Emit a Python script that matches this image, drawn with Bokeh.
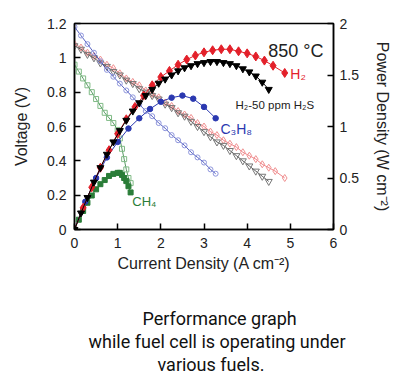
from bokeh.plotting import figure
from bokeh.models import Range1d, LinearAxis, FixedTicker, NumeralTickFormatter, Label, Title
from bokeh.embed import file_html
from bokeh.resources import INLINE

# ---------------- data ----------------
x_ticks = [0, 1, 2, 3, 4, 5, 6]
v_ticks = [0, 0.2, 0.4, 0.6, 0.8, 1.0, 1.2]
p_ticks = [0, 0.5, 1, 1.5, 2]

# H2
h2_i_p = [0, 0.2, 0.4, 0.6, 0.8, 1.0, 1.2, 1.4, 1.6, 1.8, 2.0, 2.2, 2.4, 2.6, 2.8, 3.0, 3.2, 3.4, 3.6, 3.8, 4.0, 4.2, 4.4, 4.6, 4.87]
h2_power = [0, 0.21, 0.41, 0.60, 0.77, 0.93, 1.07, 1.19, 1.30, 1.40, 1.48, 1.54, 1.60, 1.65, 1.69, 1.72, 1.74, 1.75, 1.75, 1.73, 1.71, 1.68, 1.64, 1.59, 1.52]
h2_i_v = [0, 0.15, 0.3, 0.45, 0.6, 0.75, 0.9, 1.05, 1.2, 1.35, 1.5, 1.65, 1.8, 1.95, 2.1, 2.25, 2.4, 2.55, 2.7, 2.85, 3.0, 3.15, 3.3, 3.45, 3.6, 3.75, 3.9, 4.05, 4.2, 4.35, 4.5, 4.65, 4.87]
h2_volt = [1.08, 1.06, 1.03, 1.01, 0.99, 0.96, 0.94, 0.91, 0.88, 0.86, 0.84, 0.81, 0.79, 0.77, 0.74, 0.72, 0.69, 0.67, 0.65, 0.62, 0.60, 0.57, 0.55, 0.52, 0.50, 0.48, 0.45, 0.43, 0.41, 0.38, 0.36, 0.34, 0.30]

# H2 - 50 ppm H2S
hs_i = [0, 0.15, 0.3, 0.45, 0.6, 0.75, 0.9, 1.05, 1.2, 1.35, 1.5, 1.65, 1.8, 1.95, 2.1, 2.25, 2.4, 2.55, 2.7, 2.85, 3.0, 3.15, 3.3, 3.45, 3.6, 3.75, 3.9, 4.05, 4.2, 4.35, 4.5]
hs_power = [0, 0.16, 0.31, 0.46, 0.60, 0.73, 0.85, 0.96, 1.06, 1.15, 1.23, 1.30, 1.36, 1.42, 1.46, 1.50, 1.54, 1.57, 1.59, 1.61, 1.62, 1.63, 1.63, 1.62, 1.61, 1.59, 1.56, 1.53, 1.49, 1.43, 1.36]
hs_volt = [1.07, 1.05, 1.02, 1.00, 0.97, 0.95, 0.92, 0.90, 0.87, 0.85, 0.82, 0.80, 0.78, 0.76, 0.73, 0.71, 0.68, 0.66, 0.63, 0.60, 0.57, 0.54, 0.51, 0.49, 0.46, 0.43, 0.40, 0.37, 0.34, 0.31, 0.28]

# C3H8
c3_i_p = [0, 0.25, 0.5, 0.75, 1.0, 1.25, 1.5, 1.75, 2.0, 2.25, 2.5, 2.75, 3.0, 3.27]
c3_power = [0, 0.27, 0.50, 0.70, 0.85, 0.98, 1.08, 1.17, 1.24, 1.28, 1.30, 1.27, 1.19, 1.08]
c3_i_v = [0, 0.15, 0.3, 0.45, 0.6, 0.75, 0.9, 1.05, 1.2, 1.35, 1.5, 1.65, 1.8, 1.95, 2.1, 2.25, 2.4, 2.55, 2.7, 2.85, 3.0, 3.15, 3.27]
c3_volt = [1.18, 1.13, 1.08, 1.03, 0.98, 0.93, 0.89, 0.85, 0.81, 0.77, 0.73, 0.69, 0.66, 0.62, 0.59, 0.55, 0.52, 0.49, 0.45, 0.42, 0.39, 0.35, 0.325]

# CH4
ch4_i_p = [0, 0.1, 0.2, 0.3, 0.4, 0.5, 0.6, 0.7, 0.8, 0.9, 1.0, 1.05, 1.1, 1.15, 1.2, 1.25, 1.3]
ch4_power = [0, 0.095, 0.18, 0.26, 0.33, 0.39, 0.44, 0.48, 0.52, 0.54, 0.55, 0.55, 0.53, 0.50, 0.47, 0.42, 0.36]
ch4_i_v = [0, 0.1, 0.2, 0.3, 0.4, 0.5, 0.6, 0.7, 0.8, 0.9, 1.0, 1.05, 1.1, 1.15, 1.2, 1.25, 1.3]
ch4_volt = [0.96, 0.92, 0.88, 0.84, 0.80, 0.76, 0.72, 0.68, 0.65, 0.62, 0.58, 0.53, 0.47, 0.41, 0.35, 0.30, 0.27]

caption_lines = ["Performance graph", "while fuel cell is operating under", "various fuels."]
caption_offsets = [68, 14, 83]

# ---------------- figure ----------------
FONT = "Liberation Sans"
p = figure(width=394, height=374, x_range=Range1d(0, 6), y_range=Range1d(0, 1.2),
           output_backend="svg", toolbar_location=None,
           min_border_left=74, min_border_right=61, min_border_top=23, min_border_bottom=145)
p.extra_y_ranges = {"power": Range1d(0, 2)}
p.xgrid.grid_line_color = None
p.ygrid.grid_line_color = None
p.outline_line_color = "black"
p.outline_line_width = 1.5
p.outline_line_alpha = 1.0
p.background_fill_color = "white"
p.border_fill_color = "white"

right = LinearAxis(y_range_name="power")
p.add_layout(right, "right")

for ax, ticks in ((p.xaxis[0], x_ticks), (p.yaxis[0], v_ticks), (right, p_ticks)):
    ax.ticker = FixedTicker(ticks=ticks, minor_ticks=[])
    ax.formatter = NumeralTickFormatter(format="0.[0]")
    ax.axis_line_width = 1.5
    ax.axis_line_color = "black"
    ax.major_tick_in = 6
    ax.major_tick_out = 0
    ax.major_tick_line_width = 1.5
    ax.major_tick_line_color = "black"
    ax.minor_tick_line_color = None
    ax.major_label_text_font = FONT
    ax.major_label_text_font_size = "14px"
    ax.major_label_text_color = "#222222"
    ax.axis_label_text_font = FONT
    ax.axis_label_text_font_size = "16px"
    ax.axis_label_text_font_style = "normal"
    ax.axis_label_text_color = "#222222"

p.xaxis[0].axis_label = "Current Density (A cm\u207b\u00b2)"
p.xaxis[0].major_label_standoff = 8
p.xaxis[0].axis_label_standoff = 4
p.yaxis[0].axis_label = "Voltage (V)"
p.yaxis[0].major_label_standoff = 8
p.yaxis[0].axis_label_standoff = 14
right.axis_label = "Power Density (W cm\u207b\u00b2)"
right.major_label_standoff = 6
right.axis_label_standoff = 12

RED = "#e3202a"
PINK = "#f09090"
BLUE = "#2a38b0"
LBLUE = "#8f96dd"
GREEN = "#2a7d38"
LGREEN = "#7fba85"
GREY = "#777777"

# voltage curves (open markers)
p.line(h2_i_v, h2_volt, line_color=RED, line_width=0.8, line_alpha=0.7)
p.scatter(h2_i_v, h2_volt, marker="diamond", size=7, line_color=PINK, fill_color=None, line_width=1)
p.line(hs_i, hs_volt, line_color="#333333", line_width=0.8)
p.scatter(hs_i, hs_volt, marker="inverted_triangle", size=7, line_color=GREY, fill_color=None, line_width=1)
p.line(c3_i_v, c3_volt, line_color=BLUE, line_width=0.8)
p.scatter(c3_i_v, c3_volt, marker="circle", size=5, line_color=LBLUE, fill_color=None, line_width=1)
p.line(ch4_i_v, ch4_volt, line_color=GREEN, line_width=0.8)
p.scatter(ch4_i_v, ch4_volt, marker="square", size=5, line_color=LGREEN, fill_color=None, line_width=1)

# power curves (filled markers)
p.line(ch4_i_p, ch4_power, line_color=GREEN, line_width=1, y_range_name="power")
p.scatter(ch4_i_p, ch4_power, marker="square", size=5, color=GREEN, y_range_name="power")
p.line(c3_i_p, c3_power, line_color=BLUE, line_width=1, y_range_name="power")
p.scatter(c3_i_p, c3_power, marker="circle", size=5.5, color=BLUE, y_range_name="power")
p.line(h2_i_p, h2_power, line_color=RED, line_width=1, y_range_name="power")
p.scatter(h2_i_p, h2_power, marker="diamond", size=9, color=RED, y_range_name="power")
p.line(hs_i, hs_power, line_color="black", line_width=1, y_range_name="power")
p.scatter(hs_i, hs_power, marker="inverted_triangle", size=7, color="black", y_range_name="power")

# annotations
def lab(x, y, text, color, size, baseline="middle"):
    p.add_layout(Label(x=x, y=y, text=text, text_color=color, text_font=FONT,
                       text_font_size=size, text_align="left", text_baseline=baseline))

lab(4.49, 1.04, "850 \u00b0C", "#222222", "18px", "alphabetic")
lab(5.0, 0.905, "H\u2082", RED, "14px")
lab(3.73, 0.725, "H\u2082-50 ppm H\u2082S", "#222222", "11.5px")
lab(3.38, 0.585, "C\u2083H\u2088", BLUE, "14px")
lab(1.34, 0.162, "CH\u2084", GREEN, "13px")

# caption below the chart (a thin spacer first, then the three lines)
spacer = Title(text="\u00a0", text_font_size="1px", standoff=28, text_color="white")
p.add_layout(spacer, "below")
for line, off in zip(caption_lines, caption_offsets):
    t = Title(text=line, align="left", offset=off, text_font="Roboto", text_font_size="18px",
              text_font_style="normal", text_color="#111111", standoff=0)
    p.add_layout(t, "below")

open("out.html", "w").write(file_html(p, INLINE))
